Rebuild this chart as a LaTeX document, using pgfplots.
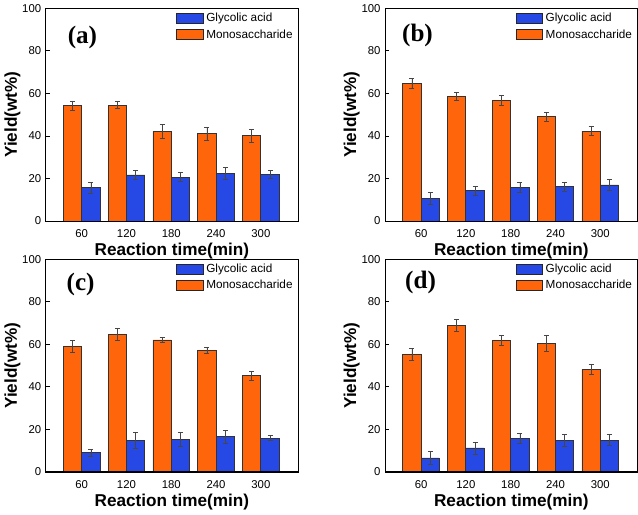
\documentclass[border=0pt]{standalone}
\usepackage{fontspec}
\setmainfont{Liberation Sans}
\newfontfamily\letterfont{Liberation Serif}
\usepackage{pgfplots}
\pgfplotsset{compat=1.18}
\usepgfplotslibrary{groupplots}
\definecolor{barorange}{RGB}{255,102,12}
\definecolor{barblue}{RGB}{38,72,228}
\definecolor{errgray}{RGB}{70,70,70}

\newcommand{\ticksize}{\fontsize{8.6}{10}\selectfont}
\newcommand{\legsize}{\fontsize{8.9}{10}\selectfont}
\newcommand{\labsize}{\fontsize{13}{15}\selectfont\bfseries}

\pgfplotsset{
  every axis/.append style={
    width=191pt, height=161pt, scale only axis,
    ymin=0, ymax=100, ytick={0,20,...,100},
    xmin=-0.8, xmax=4.83,
    xtick={0,1,2,3,4}, xticklabels={60,120,180,240,300},
    major x tick style={draw=none},
    ytick pos=left, tick align=inside, major tick length=3pt,
    axis line style={line width=0.8pt},
    major y tick style={line width=0.7pt, black},
    ticklabel style={font=\ticksize},
    /pgf/number format/assume math mode=true,
    xlabel={Reaction time(min)}, ylabel={Yield(wt\%)},
    label style={font=\labsize},
    xlabel style={yshift=3pt},
    ylabel style={yshift=-5.5pt},
    ybar, bar width=0.41,
    legend style={draw=none, fill=none, font=\legsize,
      at={(rel axis cs:0.995,0.998)}, anchor=north east,
      row sep=0.5pt, inner sep=1pt},
    legend cell align=left,
    legend image code/.code={\draw[#1, draw=black!85, line width=0.6pt] (0pt,-3.8pt) rectangle (20pt,3.8pt);},
    after end axis/.code={\draw[line width=0.8pt] (rel axis cs:0,0) rectangle (rel axis cs:1,1);},
  },
  orangebar/.style={fill=barorange, draw=black!80, line width=0.6pt, bar shift=-0.205,
    error bars/.cd, y dir=both, y explicit,
    error bar style={line width=0.5pt, errgray},
    error mark options={rotate=90, mark size=1.9pt, line width=0.5pt, errgray}},
  bluebar/.style={fill=barblue, draw=black!80, line width=0.6pt, bar shift=0.205,
    error bars/.cd, y dir=both, y explicit,
    error bar style={line width=0.5pt, errgray},
    error mark options={rotate=90, mark size=1.9pt, line width=0.5pt, errgray}},
}

\newcommand{\panelletter}[3]{\node[font=\fontsize{19}{21}\selectfont\letterfont\bfseries] at (rel axis cs:#1,#2) {#3};}

\begin{document}
\begin{tikzpicture}
\begin{groupplot}[group style={group size=2 by 2, horizontal sep=66pt, vertical sep=29pt}]

% (a)
\nextgroupplot
\addplot[bluebar] coordinates {
(0,15.7) +- (0,2.5)
(1,21.7) +- (0,2.2)
(2,20.7) +- (0,2.2)
(3,22.5) +- (0,2.8)
(4,22.0) +- (0,2.0)
};
\addlegendentry{Glycolic acid}
\addplot[orangebar] coordinates {
(0,54.2) +- (0,2.3)
(1,54.5) +- (0,1.7)
(2,42.2) +- (0,3.1)
(3,41.1) +- (0,3.2)
(4,40.1) +- (0,3.1)
};
\addlegendentry{Monosaccharide}
\panelletter{0.145}{0.865}{(a)}

% (b)
\nextgroupplot
\addplot[bluebar] coordinates {
(0,10.6) +- (0,2.7)
(1,14.2) +- (0,2.1)
(2,15.8) +- (0,2.3)
(3,16.1) +- (0,2.2)
(4,17.0) +- (0,2.6)
};
\addlegendentry{Glycolic acid}
\addplot[orangebar] coordinates {
(0,64.8) +- (0,2.2)
(1,58.6) +- (0,1.8)
(2,56.9) +- (0,2.3)
(3,49.1) +- (0,2.0)
(4,42.3) +- (0,2.1)
};
\addlegendentry{Monosaccharide}
\panelletter{0.128}{0.872}{(b)}

% (c)
\nextgroupplot
\addplot[bluebar] coordinates {
(0,9.0) +- (0,1.7)
(1,15.0) +- (0,3.7)
(2,15.4) +- (0,3.4)
(3,16.5) +- (0,3.0)
(4,15.9) +- (0,1.2)
};
\addlegendentry{Glycolic acid}
\addplot[orangebar] coordinates {
(0,59.2) +- (0,2.7)
(1,64.8) +- (0,2.8)
(2,62.1) +- (0,1.2)
(3,57.3) +- (0,1.4)
(4,45.2) +- (0,2.3)
};
\addlegendentry{Monosaccharide}
\panelletter{0.138}{0.88}{(c)}

% (d)
\nextgroupplot
\addplot[bluebar] coordinates {
(0,6.6) +- (0,3.2)
(1,11.3) +- (0,2.8)
(2,15.7) +- (0,2.4)
(3,14.8) +- (0,2.7)
(4,15.0) +- (0,2.5)
};
\addlegendentry{Glycolic acid}
\addplot[orangebar] coordinates {
(0,55.3) +- (0,2.7)
(1,68.8) +- (0,2.8)
(2,61.9) +- (0,2.4)
(3,60.5) +- (0,3.6)
(4,48.2) +- (0,2.4)
};
\addlegendentry{Monosaccharide}
\panelletter{0.14}{0.89}{(d)}

\end{groupplot}
\end{tikzpicture}
\end{document}
